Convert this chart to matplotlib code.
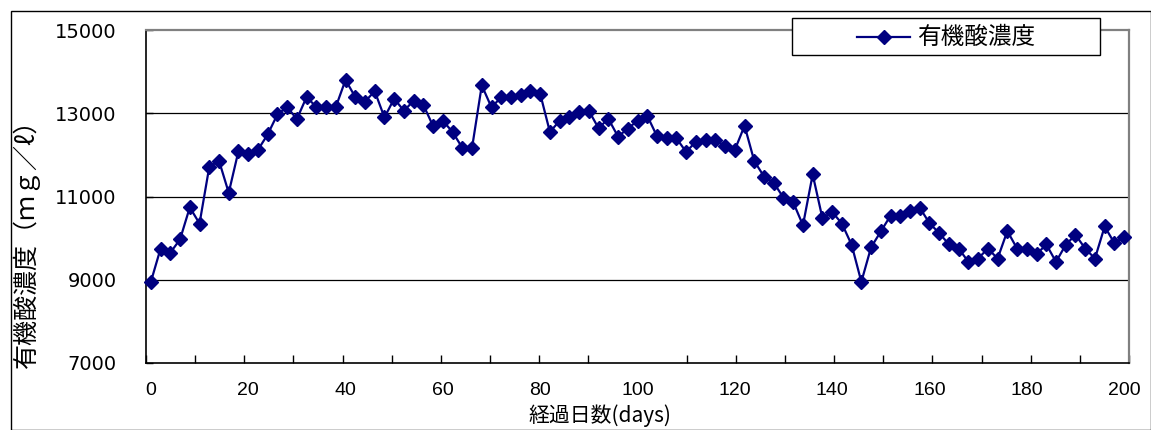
import numpy as np
import matplotlib
matplotlib.use("Agg")
import matplotlib.pyplot as plt
from matplotlib.lines import Line2D
from matplotlib.patches import Rectangle

# Elapsed days (every second day) and organic acid concentration (mg/l)
days = list(range(0, 201, 2))
acid = [
    8950, 9750, 9650, 9970, 10740, 10350, 11710, 11860, 11090, 12090,
    12010, 12120, 12490, 12970, 13150, 12860, 13390, 13150, 13150, 13150,
    13800, 13390, 13280, 13530, 12900, 13350, 13060, 13300, 13200, 12690,
    12820, 12550, 12170, 12170, 13670, 13140, 13390, 13390, 13440, 13530,
    13470, 12550, 12820, 12920, 13020, 13060, 12640, 12870, 12440, 12630,
    12820, 12940, 12450, 12400, 12400, 12070, 12320, 12360, 12360, 12210,
    12120, 12700, 11850, 11480, 11330, 10970, 10860, 10310, 11530, 10480,
    10630, 10350, 9840, 8950, 9780, 10160, 10540, 10540, 10660, 10730,
    10360, 10120, 9850, 9750, 9430, 9510, 9750, 9510, 10170, 9750,
    9750, 9610, 9850, 9430, 9840, 10080, 9750, 9510, 10280, 9880,
    10030,
]

y_ticks = [7000, 9000, 11000, 13000, 15000]
x_ticks = list(range(0, 201, 20))
series_name = "有機酸濃度"
x_title = "経過日数(days)"
y_title = "有機酸濃度（ｍｇ／ℓ）"

W, H = 1151, 430
fig = plt.figure(figsize=(W / 100, H / 100), dpi=100)
fig.patch.set_facecolor("white")

ax_left, ax_right, ax_top, ax_bottom = 146, 1129, 30, 363
ax = fig.add_axes([ax_left / W, 1 - ax_bottom / H,
                   (ax_right - ax_left) / W, (ax_bottom - ax_top) / H])
ax.set_xlim(-1, 201)
ax.set_ylim(7000, 15000)

navy = "#000080"
line, = ax.plot(days, acid, color=navy, lw=1.6, marker="D", ms=7.2,
                markeredgecolor=navy, markerfacecolor=navy, label=series_name,
                zorder=3, clip_on=False)

# horizontal gridlines
for v in y_ticks[1:-1]:
    ax.axhline(v, color="black", lw=0.9, zorder=1)

# spines
for s in ("left", "bottom"):
    ax.spines[s].set_color("black")
    ax.spines[s].set_linewidth(1.2)
for s in ("top", "right"):
    ax.spines[s].set_color("#808080")
    ax.spines[s].set_linewidth(1.6)

# y axis
ax.set_yticks(y_ticks)
ax.set_yticklabels([str(v) for v in y_ticks], fontsize=14, family="DejaVu Sans")
ax.tick_params(axis="y", direction="in", length=5, width=1, pad=21)

# x axis: labels every 20 days, inward ticks dividing the axis in 20 parts
ax.set_xticks(x_ticks)
ax.set_xticklabels([str(v) for v in x_ticks], fontsize=14,
                   family=["Liberation Sans", "DejaVu Sans"])
ax.tick_params(axis="x", which="major", length=0, pad=14)
ax.set_xticks(np.linspace(-1, 201, 21), minor=True)
ax.tick_params(axis="x", which="minor", direction="in", length=6, width=1)

# axis titles
ax.set_xlabel("")
ax.set_ylabel("")
fig.text(600 / W, 1 - 416 / H, x_title, fontsize=15, ha="center", va="center",
         family=["Noto Sans CJK JP", "DejaVu Sans"])
fig.text(26 / W, 1 - 237 / H, y_title, fontsize=18, ha="center", va="center",
         rotation=90, family=["Noto Sans CJK JP", "DejaVu Sans"])

# legend box
def fx(px):
    return px / W

def fy(py):
    return 1 - py / H

fig.add_artist(Rectangle((fx(792), fy(55)), fx(1100) - fx(792), fy(18) - fy(55),
                         transform=fig.transFigure, facecolor="white",
                         edgecolor="black", lw=1.0, zorder=10))
fig.add_artist(Line2D([fx(857), fx(910)], [fy(36.5), fy(36.5)],
                      transform=fig.transFigure, color=navy, lw=1.6, zorder=11))
fig.add_artist(Line2D([fx(883.5)], [fy(36.5)], transform=fig.transFigure,
                      marker="D", ms=7.2, color=navy, zorder=12))
fig.text(fx(917), fy(37), series_name, fontsize=17, va="center", ha="left",
         family=["Noto Sans CJK JP", "DejaVu Sans"], zorder=12)

# chart area border
fig.add_artist(Rectangle((fx(10.5), fy(429.5)), fx(1150.5) - fx(10.5),
                         fy(10.5) - fy(429.5), transform=fig.transFigure,
                         facecolor="none", edgecolor="black", lw=1.0, zorder=0))

fig.savefig("out.png", dpi=100, facecolor="white")
